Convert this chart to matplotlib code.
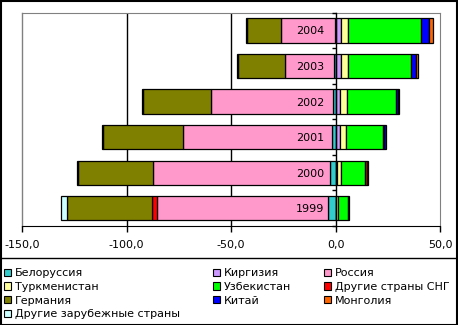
import matplotlib.pyplot as plt
from matplotlib.patches import Rectangle
from matplotlib.lines import Line2D
import numpy as np

# Migration balance by country, thousand people
years = ["1999", "2000", "2001", "2002", "2003", "2004"]

countries = ["Белоруссия", "Киргизия", "Россия", "Туркменистан", "Узбекистан",
             "Другие страны СНГ", "Германия", "Китай", "Монголия",
             "Другие зарубежные страны"]

belarus = [-3.7, -2.7, -1.8, -1.3, -0.8, -0.3]
kyrgyzstan = [0.3, 0.7, 2.1, 2.2, 2.4, 2.4]
russia = [-81.8, -84.7, -71.1, -58.4, -23.4, -25.8]
turkmenistan = [0.8, 1.8, 2.7, 3.2, 3.5, 3.5]
uzbekistan = [5.0, 11.8, 17.9, 23.4, 30.0, 35.0]
other_cis = [-2.4, 0.6, 0.7, 0.0, 0.0, 0.0]
germany = [-40.7, -35.9, -38.3, -32.3, -22.4, -16.3]
china = [0.3, 0.6, 0.7, 1.3, 2.4, 3.8]
mongolia = [0.0, 0.0, 0.0, 0.2, 1.1, 2.0]
other_foreign = [-2.9, -0.2, -0.4, -0.4, -0.4, -0.4]

series = [belarus, kyrgyzstan, russia, turkmenistan, uzbekistan,
          other_cis, germany, china, mongolia, other_foreign]
colors = ["#33CCCC", "#CC99FF", "#FF99CC", "#FFFF99", "#00FF00",
          "#FF0000", "#808000", "#0000FF", "#FF6600", "#CCFFFF"]

xticks = [-150, -100, -50, 0, 50]

plt.rcParams['font.family'] = ['DejaVu Sans']
plt.rcParams['font.size'] = 8

fig = plt.figure(figsize=(4.58, 3.25), dpi=100)
ax = fig.add_axes([22 / 458, 1 - 226 / 325, 418 / 458, 213.3 / 325])

y = np.arange(len(years))
pos_left = np.zeros(len(years))
neg_left = np.zeros(len(years))

# Excel-style stacking: positives go right from 0, negatives go left
for vals, col in zip(series, colors):
    vals = np.array(vals)
    for i, v in enumerate(vals):
        if v == 0:
            continue
        if v > 0:
            ax.barh(y[i], v, left=pos_left[i], height=0.68, color=col,
                    edgecolor="black", linewidth=0.9, zorder=2)
            pos_left[i] += v
        else:
            ax.barh(y[i], v, left=neg_left[i], height=0.68, color=col,
                    edgecolor="black", linewidth=0.9, zorder=2)
            neg_left[i] += v

ax.set_xlim(-150, 50)
ax.set_ylim(-0.5, len(years) - 0.5)

# inner gridlines only, the outer ones coincide with the plot border
for t in xticks[1:-1]:
    if t != 0:
        ax.axvline(t, color="black", linewidth=1, zorder=0)

ax.set_xticks(xticks, labels=[f"{t:.1f}".replace(".", ",") for t in xticks])
ax.tick_params(axis="x", direction="out", length=4, width=1, pad=6, colors="black")

# category axis sits at x = 0, year labels just left of it
ax.spines["left"].set_position(("data", 0))
ax.spines["left"].set_color("black")
ax.spines["left"].set_linewidth(1)
ax.spines["left"].set_zorder(3)
ax.set_yticks(y, labels=years)
ax.set_yticks(np.arange(len(years) + 1) - 0.5, minor=True)
ax.tick_params(axis="y", which="major", length=0, pad=8)
ax.tick_params(axis="y", which="minor", direction="out", length=3, width=1)
ax.yaxis.set_zorder(4)

for s in ["top", "right"]:
    ax.spines[s].set_color("#808080")
ax.spines["bottom"].set_color("black")
ax.axvline(-150, color="#808080", linewidth=1, clip_on=False, zorder=1)

# legend, filled row by row
order = [0, 3, 6, 9, 1, 4, 7, 2, 5, 8]
handles = [Rectangle((0, 0), 1, 1, facecolor=colors[k], edgecolor="black", linewidth=0.8)
           for k in order]
labels = [countries[k] for k in order]
fig.legend(handles, labels, ncol=3, loc="upper left",
           bbox_to_anchor=(4 / 458, 1 - 268.5 / 325), frameon=False,
           fontsize=8, handlelength=0.65, handleheight=0.65, handletextpad=0.35,
           columnspacing=2.95, labelspacing=0.32, borderpad=0, borderaxespad=0)

# outer frame and legend separator
fig.patches.append(Rectangle((0.5 / 458, 0.5 / 325), 456.5 / 458, 323.5 / 325,
                             transform=fig.transFigure, fill=False,
                             edgecolor="black", linewidth=1.5))
fig.lines.append(Line2D([0, 1], [1 - 258 / 325, 1 - 258 / 325],
                        transform=fig.transFigure, color="black", linewidth=1))

fig.savefig("out.png", dpi=100)
